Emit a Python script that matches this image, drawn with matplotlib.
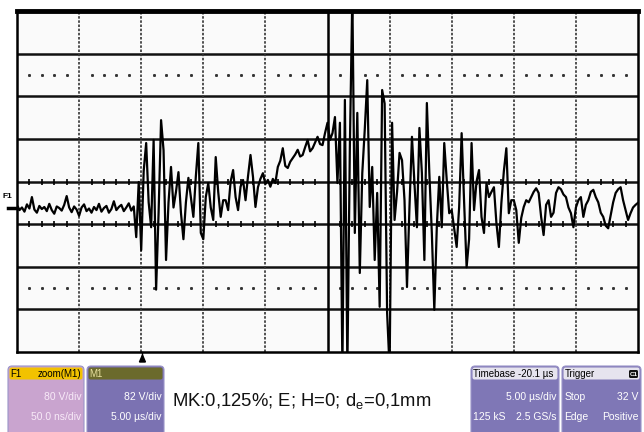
import numpy as np
import matplotlib.pyplot as plt
from matplotlib.patches import FancyBboxPatch, Polygon

# scope settings
volts_per_div = 82
us_per_div = 5.0
sample_us = 0.2
trigger_us = 10.1

# trace samples in volts, one every 0.2 us
pre_trigger = [-46, -55, -50, -58, -44, -52, -30, -54, -60, -47, -53, -49, -57, -43, -55, -62,
               -48, -51, -56, -45, -28, -50, -59, -48, -54, -66, -50, -44, -57, -52, -60, -49,
               -55, -43, -58, -51, -47, -60, -53, -38, -55, -49, -45, -57, -50, -42, -56, -48]
burst_1 = [-107, -1, -132, 20, 74, -40, -88, 80, -208, -60, 118, 60, -151, -40, 28, -50,
           -20, 18, -60, -111, -40, 7, -30, -68, 10, 74, -99, -111, -30, -3, -50, -74,
           47, -20, -68, -36, -36, -55, 0, 22, -30, -55, -10, 3, -36, 10, 51]
ramp = [9, -49, -11, 5, 16, -5, 3, -10, 5, -3, 28, 40, 64, 30, 26, 38,
        45, 52, 61, 48, 51, 66, 80, 58, 64, 75, 86, 72, 70, 93, 113, 80,
        93, 124, -3, 113]
burst_2 = [-360, 157, -360, 66, 360, -99, 132, -176, 16, 100, 195, -49, 28, -151, -22, -241,
           176, 150, -253, -360, 113, -74, -20, 55, 41, -36, -203, -49, 86, -3, -88, 103,
           16, -151, 151, 16, -99, -247, -88, 9, -88, 74, 3, -61, -55, -90, -126, -49,
           93, -40, -165, -111, 74, -55, 0, 22, -68, -99]
tail = [-3, -30, -20, -11, -80, -126, -41, 20, 64, -61, -36, -36, -55, -118, -70, -49,
        -36, -40, -30, -20, -13, -22, -68, -103, -45, -36, -68, -60, -22, -11, -15, -25,
        -30, -50, -61, -88, -50, -36, -30, -68, -45, -36, -20, -16, -30, -40, -60, -68,
        -85, -90, -65, -40, -22, -15, -11, -36, -55, -74, -61, -50, -45, -41]

f1_info = ["80 V/div", "50.0 ns/div"]
m1_info = ["82 V/div", "5.00 \u00b5s/div"]
caption = "MK:0,125%; E; H=0; d$_\\mathregular{e}$=0,1mm"

trace = np.array(pre_trigger + burst_1 + ramp + burst_2 + tail)
t = np.arange(len(trace)) * sample_us

W, H = 644, 432
fig = plt.figure(figsize=(W / 100, H / 100), dpi=100)
fig.patch.set_facecolor('white')

ax = fig.add_axes([17 / W, 80 / H, 621 / W, 341 / H])
ax.set_facecolor('#fafafa')
ax.set_xlim(0, 10 * us_per_div)
ax.set_ylim(-4 * volts_per_div, 4 * volts_per_div)
ax.set_xticks([])
ax.set_yticks([])
for s in ax.spines.values():
    s.set_color('black')
    s.set_linewidth(1.8)
ax.spines['top'].set_linewidth(3.5)

# graticule
for k in range(-3, 4):
    ax.axhline(k * volts_per_div, color='#111111', lw=1.8, zorder=1)
for k in range(1, 10):
    if k == 5:
        ax.axvline(k * us_per_div, color='black', lw=1.8, zorder=1)
    else:
        ax.axvline(k * us_per_div, color='#333333', lw=1.2, ls=(0, (1.5, 1)), zorder=1)

minor = np.array([m for m in np.arange(1, 50) if m % 5 != 0], dtype=float)
for lvl in (2.5, -2.5):
    ax.plot(minor, np.full(len(minor), lvl * volts_per_div), ls='none', marker='s',
            ms=1.1, color='#333333', zorder=1)
for lvl in (0, -1):
    ax.plot(minor, np.full(len(minor), lvl * volts_per_div), ls='none', marker='|',
            ms=5, mew=1.2, color='black', zorder=1)

ax.plot(t, trace, color='black', lw=1.6, zorder=3)

# overlay in pixel units for labels and panels
ov = fig.add_axes([0, 0, 1, 1], facecolor='none')
ov.set_xlim(0, W)
ov.set_ylim(H, 0)
ov.axis('off')

sans = ['Liberation Sans', 'DejaVu Sans']

ov.text(3, 197, "F1", fontsize=6, family=sans, fontweight='bold', va='center')
ov.plot([8, 17], [208, 208], color='black', lw=2.5)

tx = 17 + trigger_us / (10 * us_per_div) * 621
ov.plot([tx, tx], [352, 357], color='black', lw=1)
ov.add_patch(Polygon([[tx - 3, 362], [tx + 3, 362], [tx, 355]], closed=True, color='black'))


def panel(x0, x1, header_col, body_col, header_left, header_right, rows, header_txt='black',
          body_txt='white'):
    y0, y1 = 366, 436
    ov.add_patch(FancyBboxPatch((x0, y0), x1 - x0, y1 - y0,
                                boxstyle='round,pad=0,rounding_size=4',
                                fc=body_col, ec='#9a94c8', lw=0.8))
    ov.add_patch(FancyBboxPatch((x0 + 1.5, y0 + 1.5), x1 - x0 - 3, 12,
                                boxstyle='round,pad=0,rounding_size=2',
                                fc=header_col, ec='none'))
    ov.text(x0 + 2.5, y0 + 8, header_left, fontsize=7, family=sans, color=header_txt,
            va='center', ha='left')
    if header_right:
        ov.text(x1 - 2.5, y0 + 8, header_right, fontsize=7, family=sans, color=header_txt,
                va='center', ha='right')
    for i, row in enumerate(rows):
        yy = y0 + 31 + i * 20
        if isinstance(row, tuple):
            ov.text(x0 + 2.5, yy, row[0], fontsize=7.5, family=sans, color=body_txt,
                    va='center', ha='left')
            ov.text(x1 - 2.5, yy, row[1], fontsize=7.5, family=sans, color=body_txt,
                    va='center', ha='right')
        else:
            ov.text(x1 - 2.5, yy, row, fontsize=7.5, family=sans, color=body_txt,
                    va='center', ha='right')


panel(8, 84, '#f2c200', '#c9a4cf', "F1", "zoom(M1)", f1_info, body_txt='#f8eaf8')
panel(87, 164, '#6b6a2c', '#7b72b2', "M1", "", m1_info, header_txt='#e8e0a0')
panel(471, 559, '#e6e4ee', '#7f77b6', "Timebase -20.1 \u00b5s", "",
      ["5.00 \u00b5s/div", ("125 kS", "2.5 GS/s")])
panel(562, 641, '#e6e4ee', '#7f77b6', "Trigger", "", [("Stop", "32 V"), ("Edge", "Positive")])
ov.add_patch(FancyBboxPatch((629, 370), 9, 8, boxstyle='round,pad=0,rounding_size=1.5',
                            fc='#111111', ec='none'))
ov.text(633.5, 374, "C1", fontsize=4.5, color='white', ha='center', va='center',
        family=sans, fontweight='bold')

ov.text(172, 401, caption, fontsize=13.3, family=sans,
        va='center', ha='left', color='#111111')

fig.savefig('out.png', dpi=100)
